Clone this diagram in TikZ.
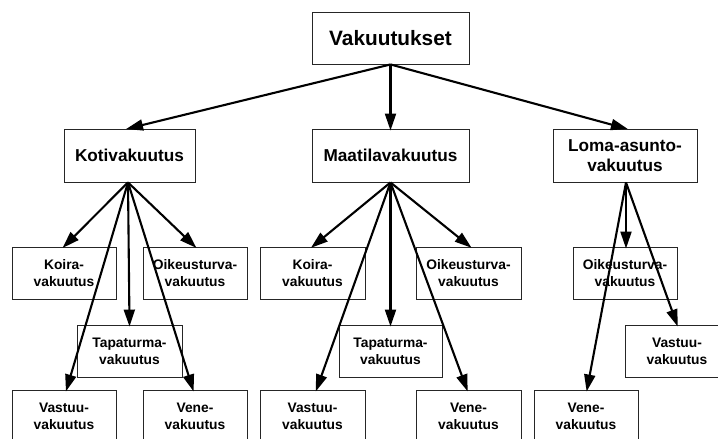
\documentclass[tikz,border=0pt]{standalone}
\usepackage{fontspec}
\setmainfont{Liberation Sans}
\usetikzlibrary{arrows.meta}
\begin{document}
\begin{tikzpicture}[x=1pt,y=-1pt,
  box/.style={draw=black!85,line width=0.9pt,fill=white,inner sep=0pt,
    align=center,font=\bfseries,minimum height=52pt},
  rootbox/.style={box,minimum width=157pt,font=\fontsize{20.8}{24}\bfseries},
  midbox/.style={box,minimum height=53pt,font=\fontsize{17.2}{19.5}\bfseries},
  leafbox/.style={box,minimum width=104pt,font=\fontsize{13.8}{17}\bfseries},
  link/.style={-{Triangle[length=17pt,width=11pt]},line width=2.1pt,shorten >=-2pt}]
\useasboundingbox (0,0) rectangle (718,439);
\clip (0,0) rectangle (718,439);

% level 0 and 1
\node[rootbox] (root) at (390.5,38) {Vakuutukset};
\node[midbox,minimum width=131pt] (koti) at (129.5,155.5) {Kotivakuutus};
\node[midbox,minimum width=157pt] (maat) at (390.5,155.5) {Maatilavakuutus};
\node[midbox,minimum width=144pt] (loma) at (625,155.5) {Loma-asunto-\\vakuutus};

% Kotivakuutus leaves
\node[leafbox] (k1) at (64,273) {Koira-\\vakuutus};
\node[leafbox] (k2) at (195,273) {Oikeusturva-\\vakuutus};
\node[leafbox,minimum width=105pt] (k3) at (129.5,351) {Tapaturma-\\vakuutus};
\node[leafbox] (k4) at (64,416) {Vastuu-\\vakuutus};
\node[leafbox] (k5) at (195,416) {Vene-\\vakuutus};

% Maatilavakuutus leaves
\node[leafbox,minimum width=105pt] (m1) at (312.5,273) {Koira-\\vakuutus};
\node[leafbox,minimum width=105pt] (m2) at (468.5,273) {Oikeusturva-\\vakuutus};
\node[leafbox,minimum width=103pt] (m3) at (390.5,351) {Tapaturma-\\vakuutus};
\node[leafbox,minimum width=105pt] (m4) at (312.5,416) {Vastuu-\\vakuutus};
\node[leafbox,minimum width=105pt] (m5) at (468.5,416) {Vene-\\vakuutus};

% Loma-asuntovakuutus leaves
\node[leafbox] (l1) at (625,273) {Oikeusturva-\\vakuutus};
\node[leafbox] (l2) at (677,351) {Vastuu-\\vakuutus};
\node[leafbox] (l3) at (586,416) {Vene-\\vakuutus};

% connectors
\draw[link] (root.south) -- ([xshift=-1.5pt]koti.north);
\draw[link] (root.south) -- (maat.north);
\draw[link] (root.south) -- ([xshift=1pt]loma.north);

\draw[link] ([xshift=-1.5pt]koti.south) -- (k1.north);
\draw[link] ([xshift=-1.5pt]koti.south) -- (k2.north);
\draw[link] ([xshift=-1.5pt]koti.south) -- (k3.north);
\draw[link] ([xshift=-1.5pt]koti.south) -- ([xshift=2.5pt]k4.north);
\draw[link] ([xshift=-1.5pt]koti.south) -- ([xshift=-2pt]k5.north);

\draw[link] (maat.south) -- (m1.north);
\draw[link] (maat.south) -- ([xshift=1.5pt]m2.north);
\draw[link] (maat.south) -- (m3.north);
\draw[link] (maat.south) -- ([xshift=4pt]m4.north);
\draw[link] (maat.south) -- ([xshift=-1.5pt]m5.north);

\draw[link] ([xshift=1pt]loma.south) -- ([xshift=1pt]l1.north);
\draw[link] ([xshift=1pt]loma.south) -- (l2.north);
\draw[link] ([xshift=1pt]loma.south) -- ([xshift=1pt]l3.north);
\end{tikzpicture}
\end{document}
